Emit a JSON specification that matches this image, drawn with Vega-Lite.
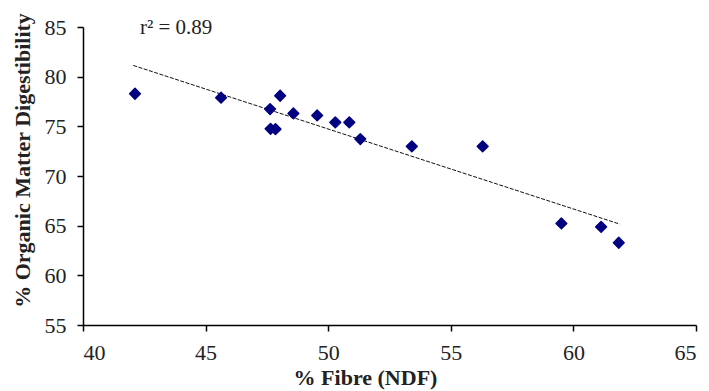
{
  "$schema": "https://vega.github.io/schema/vega-lite/v6.json",
  "autosize": {"type": "none"},
  "padding": {"left": 83, "top": 27, "right": 13, "bottom": 66},
  "width": 613,
  "height": 298,
  "background": "white",
  "config": {
    "view": {"stroke": null},
    "font": "Times New Roman",
    "axis": {
      "grid": false,
      "domainColor": "black",
      "domainWidth": 1.5,
      "tickColor": "black",
      "tickWidth": 1.5,
      "tickSize": 6,
      "labelFont": "Times New Roman",
      "labelFontSize": 22,
      "labelColor": "#222",
      "titleFont": "Times New Roman",
      "titleFontSize": 22,
      "titleFontWeight": "bold",
      "titleColor": "#222"
    }
  },
  "datasets": {
    "points": [
      {"ndf": 42.12, "omd": 78.28},
      {"ndf": 45.63, "omd": 77.88},
      {"ndf": 47.63, "omd": 76.74},
      {"ndf": 47.65, "omd": 74.75},
      {"ndf": 47.85, "omd": 74.72},
      {"ndf": 48.04, "omd": 78.08},
      {"ndf": 48.58, "omd": 76.3},
      {"ndf": 49.55, "omd": 76.1},
      {"ndf": 50.29, "omd": 75.4},
      {"ndf": 50.86, "omd": 75.4},
      {"ndf": 51.31, "omd": 73.72},
      {"ndf": 53.41, "omd": 72.98},
      {"ndf": 56.3, "omd": 72.98},
      {"ndf": 59.51, "omd": 65.22},
      {"ndf": 61.13, "omd": 64.88},
      {"ndf": 61.85, "omd": 63.28}
    ],
    "trend": [
      {"ndf": 42.05, "omd": 81.13},
      {"ndf": 61.89, "omd": 65.16}
    ],
    "label": [
      {"ndf": 43.8, "omd": 84.33, "text": "r² = 0.89"}
    ]
  },
  "layer": [
    {
      "data": {"name": "trend"},
      "mark": {"type": "line", "color": "#111", "strokeWidth": 1, "strokeDash": [4, 1.5]},
      "encoding": {
        "x": {"field": "ndf", "type": "quantitative"},
        "y": {"field": "omd", "type": "quantitative"}
      }
    },
    {
      "data": {"name": "points"},
      "mark": {"type": "point", "shape": "diamond", "filled": true, "color": "#000080", "size": 115, "opacity": 1, "stroke": "#000080", "strokeWidth": 1.5, "strokeJoin": "round"},
      "encoding": {
        "x": {
          "field": "ndf", "type": "quantitative",
          "scale": {"domain": [40, 65], "nice": false, "zero": false},
          "axis": {"values": [40, 45, 50, 55, 60, 65], "title": "% Fibre (NDF)", "labelPadding": 11, "titleX": 282, "titleY": 52, "titleAlign": "center", "titleBaseline": "middle"}
        },
        "y": {
          "field": "omd", "type": "quantitative",
          "scale": {"domain": [55, 85], "nice": false, "zero": false},
          "axis": {"values": [55, 60, 65, 70, 75, 80, 85], "title": "% Organic Matter Digestibility", "labelPadding": 11, "titleX": -61, "titleY": 133, "titleAngle": -90, "titleAlign": "center", "titleBaseline": "middle"}
        }
      }
    },
    {
      "data": {"name": "label"},
      "mark": {"type": "text", "fontSize": 21, "font": "Times New Roman", "color": "#222", "align": "center", "baseline": "alphabetic"},
      "encoding": {
        "x": {"field": "ndf", "type": "quantitative"},
        "y": {"field": "omd", "type": "quantitative"},
        "text": {"field": "text"}
      }
    }
  ]
}
